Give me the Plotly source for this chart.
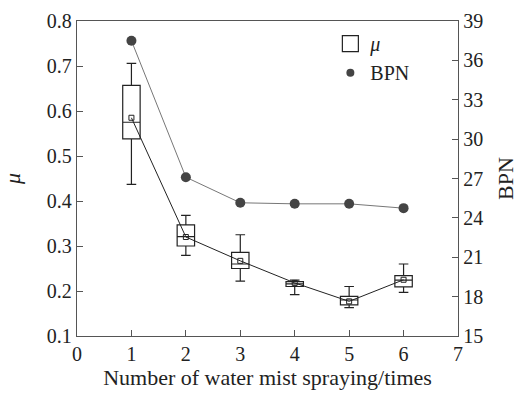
import plotly.graph_objects as go

spray_times = [1, 2, 3, 4, 5, 6]
mu_upper = [0.706, 0.368, 0.325, 0.224, 0.210, 0.260]
mu_q3 = [0.657, 0.347, 0.286, 0.221, 0.188, 0.234]
mu_median = [0.575, 0.321, 0.260, 0.216, 0.180, 0.224]
mu_q1 = [0.538, 0.300, 0.250, 0.210, 0.169, 0.209]
mu_lower = [0.437, 0.279, 0.222, 0.192, 0.163, 0.197]
mu_mean = [0.585, 0.320, 0.267, 0.218, 0.177, 0.225]
bpn = [37.5, 27.1, 25.15, 25.07, 25.07, 24.74]

x_ticks = [0, 1, 2, 3, 4, 5, 6, 7]
mu_ticks = [0.1, 0.2, 0.3, 0.4, 0.5, 0.6, 0.7, 0.8]
bpn_ticks = [15, 18, 21, 24, 27, 30, 33, 36, 39]

FONT = "Liberation Serif, Times New Roman, serif"
AX = "#555555"

fig = go.Figure()

fig.add_trace(go.Box(
    x=spray_times, q1=mu_q1, median=mu_median, q3=mu_q3,
    lowerfence=mu_lower, upperfence=mu_upper,
    width=0.32, whiskerwidth=0.55,
    line=dict(color="#222222", width=1.2), fillcolor="white",
    boxpoints=False, showlegend=False, hoverinfo="skip",
))

fig.add_trace(go.Scatter(
    x=spray_times, y=mu_mean, mode="lines+markers",
    line=dict(color="#222222", width=1),
    marker=dict(symbol="square-open", size=5, color="#222222", line=dict(width=1)),
    showlegend=False,
))

fig.add_trace(go.Scatter(
    x=spray_times, y=bpn, mode="lines+markers", yaxis="y2",
    line=dict(color="#777777", width=1),
    marker=dict(symbol="circle", size=10, color="#444444"),
    showlegend=False,
))

# legend entries
fig.add_trace(go.Scatter(
    x=[None], y=[None], mode="markers", name="<i>μ</i>",
    marker=dict(symbol="square-open", size=17, color="#222222", line=dict(width=1.2)),
))
fig.add_trace(go.Scatter(
    x=[None], y=[None], mode="markers", name="BPN", yaxis="y2",
    marker=dict(symbol="circle", size=8, color="#444444"),
))

fig.update_layout(
    width=522, height=393,
    margin=dict(l=77, r=64, t=21, b=57),
    paper_bgcolor="white", plot_bgcolor="white",
    font=dict(family=FONT, size=20, color="#222222"),
    xaxis=dict(
        range=[0, 7], tickvals=x_ticks, ticks="inside", ticklen=6,
        tickcolor=AX, showline=True, linecolor=AX, linewidth=1.3, mirror=True,
        showgrid=False, zeroline=False, automargin=False,
        title=dict(text="Number of water mist spraying/times", font=dict(size=22), standoff=0),
        tickfont=dict(size=20),
    ),
    yaxis=dict(
        range=[0.1, 0.8], tickvals=mu_ticks, ticktext=[f"{v:.1f}" for v in mu_ticks],
        ticks="inside", ticklen=6, tickcolor=AX, automargin=False,
        showline=True, linecolor=AX, linewidth=1.3,
        showgrid=False, zeroline=False,
        title=dict(text="<i>μ</i>", font=dict(size=22), standoff=22),
    ),
    yaxis2=dict(
        range=[15, 39], tickvals=bpn_ticks, overlaying="y", side="right",
        ticks="inside", ticklen=6, tickcolor=AX, automargin=False,
        showline=True, linecolor=AX, linewidth=1.3,
        showgrid=False, zeroline=False,
        title=dict(text="BPN", font=dict(size=22), standoff=15),
    ),
    legend=dict(
        x=0.665, y=0.99, xanchor="left", yanchor="top",
        bgcolor="rgba(0,0,0,0)", font=dict(size=20),
        itemsizing="trace", tracegroupgap=0,
    ),
)

fig.write_html("out.html", config={"displayModeBar": False},
               post_script="document.body.style.margin='0';")
